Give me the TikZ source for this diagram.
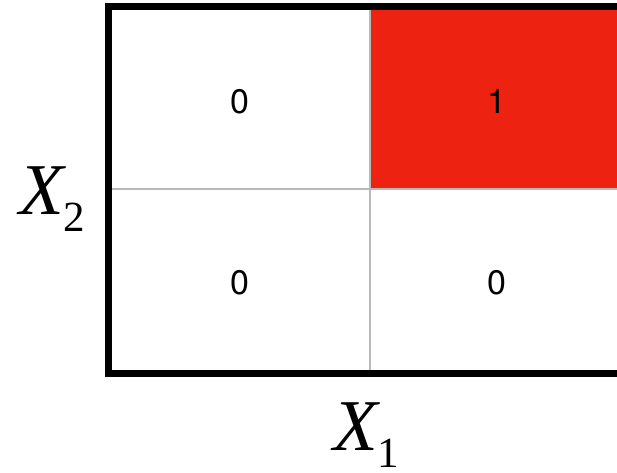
\documentclass[tikz,border=0pt]{standalone}
\usepackage{fontspec}
\setmainfont{Liberation Serif}
\newfontfamily\cellfont{TeX Gyre Heros}
\definecolor{cellred}{RGB}{237,34,16}
\definecolor{gridgray}{RGB}{185,185,185}
\tikzset{
  celltext/.style={font=\cellfont\fontsize{34}{34}\selectfont, inner sep=0pt, anchor=base},
  axislabel/.style={inner sep=0pt, anchor=base west},
  border/.style={line width=7pt, black},
  gridline/.style={line width=2pt, gridgray}
}
\newcommand{\axlab}[1]{{\fontsize{73}{73}\selectfont\itshape X}\raisebox{-17pt}{\fontsize{43}{43}\selectfont #1}}
\begin{document}
\begin{tikzpicture}[x=1pt,y=-1pt]
\useasboundingbox (0,0) rectangle (617,472);
\begin{scope}
\clip (0,0) rectangle (617,472);
\fill[cellred] (370,6) rectangle (640,188.5);
\draw[gridline] (370,6) -- (370,373.5);
\draw[gridline] (108.5,188.5) -- (640,188.5);
\draw[border] (640,6) -- (108.5,6) -- (108.5,373.5) -- (640,373.5);
\end{scope}
\node[celltext] (c11) at (240,113) {0};
\node[celltext] (c12) at (497,113) {1};
\node[celltext] (c21) at (240,294) {0};
\node[celltext] (c22) at (497,294) {0};
\node[axislabel] (x2) at (19,214) {\axlab{2}};
\node[axislabel] (x1) at (333,450) {\axlab{1}};
\end{tikzpicture}
\end{document}
